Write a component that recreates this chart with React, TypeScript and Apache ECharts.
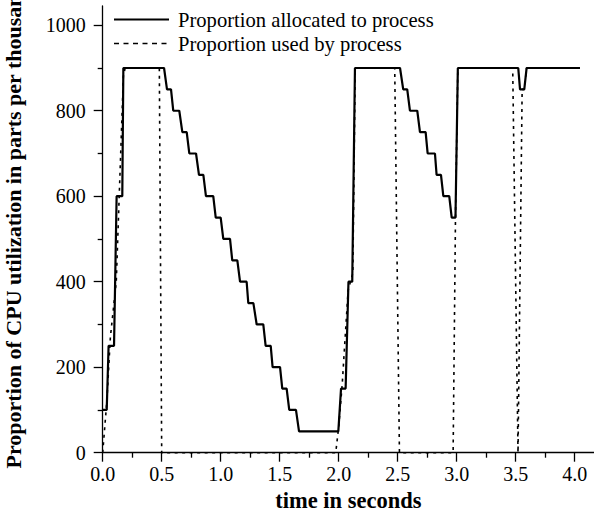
import React, { useEffect, useRef } from 'react';
import * as echarts from 'echarts';

const seriesNames = ['Proportion allocated to process', 'Proportion used by process'];

const allocX = [0, 0.034, 0.05, 0.096, 0.118, 0.166, 0.175, 0.52, 0.545, 0.579, 0.598, 0.649, 0.675, 0.712, 0.734, 0.791, 0.816, 0.853, 0.875, 0.937, 0.958, 1.0, 1.022, 1.079, 1.098, 1.141, 1.164, 1.22, 1.234, 1.277, 1.305, 1.361, 1.381, 1.424, 1.44, 1.503, 1.522, 1.559, 1.581, 1.638, 1.664, 1.997, 2.02, 2.059, 2.083, 2.115, 2.138, 2.52, 2.547, 2.581, 2.604, 2.666, 2.689, 2.737, 2.754, 2.816, 2.83, 2.867, 2.887, 2.937, 2.958, 2.99, 3.01, 3.522, 3.537, 3.573, 3.593, 4.045];
const allocY = [100, 100, 250, 250, 600, 600, 900, 900, 850, 850, 800, 800, 750, 750, 700, 700, 650, 650, 600, 600, 550, 550, 500, 500, 450, 450, 400, 400, 350, 350, 300, 300, 250, 250, 200, 200, 150, 150, 100, 100, 50, 50, 150, 150, 400, 400, 900, 900, 850, 850, 800, 800, 750, 750, 700, 700, 650, 650, 600, 600, 550, 550, 900, 900, 850, 850, 900, 900];

const usedX = [0, 0.035, 0.065, 0.115, 0.14, 0.175, 0.19, 0.48, 0.5, 1.975, 2.0, 2.03, 2.08, 2.12, 2.14, 2.475, 2.515, 2.97, 2.99, 3.01, 3.475, 3.52, 3.555, 3.573, 3.593, 4.045];
const usedY = [0, 120, 270, 400, 600, 880, 900, 900, 0, 0, 60, 160, 380, 420, 900, 900, 0, 0, 550, 900, 900, 0, 850, 850, 900, 900];

const xMajorTicks = [0, 0.5, 1, 1.5, 2, 2.5, 3, 3.5, 4];
const xMinorTicks = [0.25, 0.75, 1.25, 1.75, 2.25, 2.75, 3.25, 3.75];
const yMajorTicks = [0, 200, 400, 600, 800, 1000];
const yMinorTicks = [100, 300, 500, 700, 900];

const xTitle = 'time in seconds';
const yTitle = 'Proportion of CPU utilization in parts per thousand';

const FONT = 'Liberation Serif';

export default function App() {
  const ref = useRef<HTMLDivElement>(null);
  useEffect(() => {
    if (!ref.current) return;
    const chart = echarts.init(ref.current, null, { renderer: 'svg' });
    const allocData = allocX.map((x, i) => [x, allocY[i]]);
    const usedData = usedX.map((x, i) => [x, usedY[i]]);
    const xMin = 0, xMax = 4.164, yMin = 0, yMax = 1045;
    chart.setOption({
      animation: false,
      backgroundColor: '#fff',
      textStyle: { fontFamily: FONT, color: '#000' },
      grid: { left: 102.7, right: 0, top: 6, bottom: 61.3, containLabel: false, outerBoundsMode: 'none' },
      legend: {
        orient: 'vertical',
        left: 113,
        top: 9,
        padding: 0,
        itemWidth: 55,
        itemHeight: 14,
        itemGap: 3,
        data: [
          { name: seriesNames[0] },
          { name: seriesNames[1], lineStyle: { type: [5, 4.5], width: 1.5, color: '#000' } },
        ],
        itemStyle: { color: 'transparent', borderWidth: 0, opacity: 0 },
        textStyle: { fontFamily: FONT, fontSize: 20.6, color: '#000', padding: [0, 0, 0, 4] },
      },
      xAxis: [
        {
          type: 'value', min: xMin, max: xMax, interval: 0.5,
          name: xTitle, nameLocation: 'middle', nameGap: 32,
          nameTextStyle: { fontFamily: FONT, fontSize: 22.5, fontWeight: 'bold', color: '#000' },
          axisLine: { show: true, onZero: false, lineStyle: { color: '#000', width: 1.3 } },
          axisTick: { show: true, inside: false, length: 9, customValues: xMajorTicks, lineStyle: { color: '#000', width: 1.3 } },
          axisLabel: { show: true, margin: 11, customValues: xMajorTicks, fontFamily: FONT, fontSize: 20, color: '#000', formatter: (v: number) => v.toFixed(1) },
          splitLine: { show: false },
        },
        {
          type: 'value', min: xMin, max: xMax, interval: 0.5, position: 'bottom',
          axisLine: { show: false, onZero: false },
          axisTick: { show: true, inside: false, length: 5, customValues: xMinorTicks, lineStyle: { color: '#000', width: 1.3 } },
          axisLabel: { show: false },
          splitLine: { show: false },
        },
      ],
      yAxis: [
        {
          type: 'value', min: yMin, max: yMax, interval: 200,
          name: yTitle, nameLocation: 'middle', nameGap: 78,
          nameTextStyle: { fontFamily: FONT, fontSize: 22, fontWeight: 'bold', color: '#000', padding: [0, 0, 0, 8] },
          axisLine: { show: true, onZero: false, lineStyle: { color: '#000', width: 1.3 } },
          axisTick: { show: true, inside: false, length: 9, customValues: yMajorTicks, lineStyle: { color: '#000', width: 1.3 } },
          axisLabel: { show: true, margin: 17, customValues: yMajorTicks, fontFamily: FONT, fontSize: 20, color: '#000', formatter: (v: number) => String(v) },
          splitLine: { show: false },
        },
        {
          type: 'value', min: yMin, max: yMax, interval: 200, position: 'left',
          axisLine: { show: false, onZero: false },
          axisTick: { show: true, inside: false, length: 5, customValues: yMinorTicks, lineStyle: { color: '#000', width: 1.3 } },
          axisLabel: { show: false },
          splitLine: { show: false },
        },
      ],
      series: [
        {
          name: seriesNames[0], type: 'line', data: allocData, xAxisIndex: 0, yAxisIndex: 0,
          symbol: 'none', showSymbol: false, clip: false,
          lineStyle: { color: '#000', width: 2.2 }, itemStyle: { color: '#000' },
        },
        {
          name: seriesNames[1], type: 'line', data: usedData, xAxisIndex: 0, yAxisIndex: 0,
          symbol: 'none', showSymbol: false, clip: false,
          lineStyle: { color: '#000', width: 1.6, type: [3, 4.5] }, itemStyle: { color: '#000' },
        },
      ],
    });
    return () => chart.dispose();
  }, []);
  return <div ref={ref} style={{ position: 'absolute', left: 0, top: 0, width: 594, height: 514 }} />;
}
